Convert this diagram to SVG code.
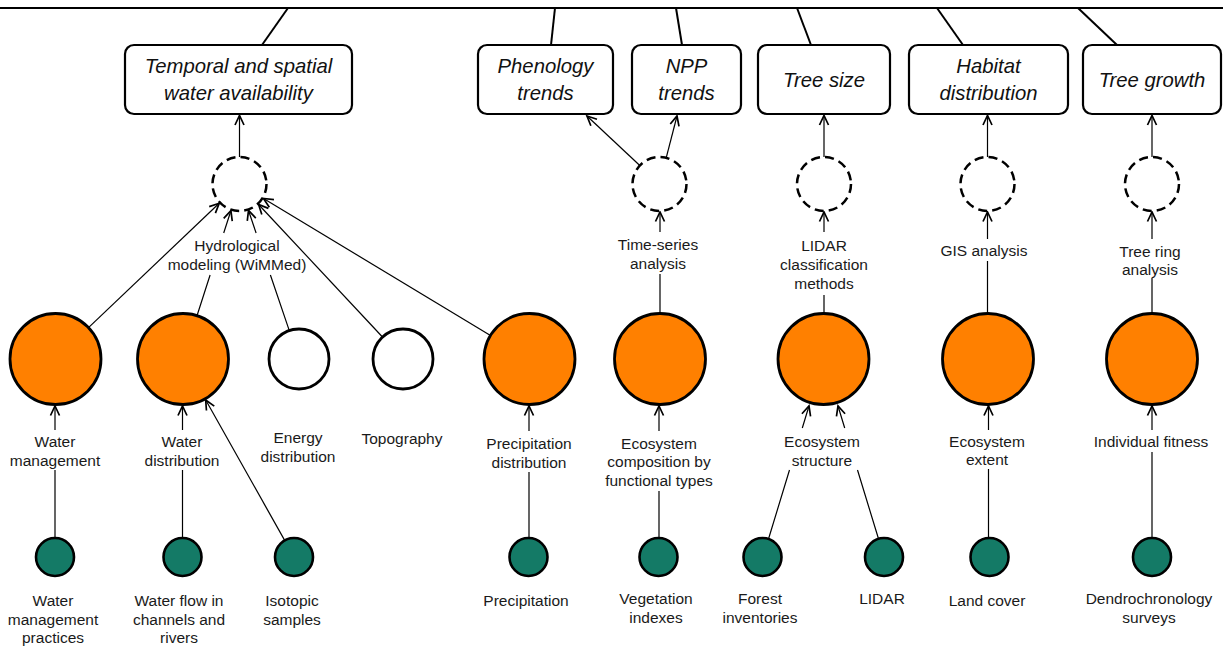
<svg xmlns="http://www.w3.org/2000/svg" width="1223" height="646" viewBox="0 0 1223 646">
  <defs>
    <marker id="arrow" markerUnits="userSpaceOnUse" markerWidth="13" markerHeight="13" viewBox="0 0 13 13" refX="11" refY="6.5" orient="auto" overflow="visible">
      <path d="M1.5,2 L11,6.5 L1.5,11" fill="none" stroke="#000" stroke-width="1.7" stroke-linejoin="miter"/>
    </marker>
    <style>
      .topline { stroke: #000; stroke-width: 2.2; fill: none; }
      .branch { stroke: #000; stroke-width: 2; fill: none; }
      .box { fill: #fff; stroke: #000; stroke-width: 2.2; }
      .boxtext { font-family: "Liberation Sans", Arial, Helvetica, sans-serif; font-size: 20.3px; font-style: italic; fill: #111; text-anchor: middle; }
      .hub { fill: #fff; stroke: #000; stroke-width: 2.5; stroke-dasharray: 9 5.2; }
      .big { fill: #ff8000; stroke: #000; stroke-width: 2.8; }
      .empty { fill: #fff; stroke: #000; stroke-width: 2.8; }
      .data { fill: #147a66; stroke: #000; stroke-width: 2.6; }
      .edge { stroke: #000; stroke-width: 1.2; fill: none; }
      .arr { marker-end: url(#arrow); }
      .lbl { font-family: "Liberation Sans", Arial, Helvetica, sans-serif; font-size: 15.5px; fill: #1a1a1a; text-anchor: middle; }
    </style>
  </defs>

  <rect width="1223" height="646" fill="#fff"/>

  <!-- trunk and branches to the indicator boxes -->
  <g id="trunk">
    <line class="topline" x1="0" y1="8" x2="1223" y2="8"/>
    <line class="branch" x1="288" y1="8" x2="262" y2="45"/>
    <line class="branch" x1="555" y1="8" x2="551" y2="45"/>
    <line class="branch" x1="676" y1="8" x2="682" y2="45"/>
    <line class="branch" x1="797" y1="8" x2="811" y2="45"/>
    <line class="branch" x1="937" y1="8" x2="963" y2="45"/>
    <line class="branch" x1="1078" y1="8" x2="1117" y2="45"/>
  </g>

  <!-- connectors -->
  <g id="connectors">
    <!-- hubs to indicator boxes -->
    <path class="edge arr" d="M239.5,157 L239.5,115.5"/>
    <path class="edge arr" d="M639.8,165.5 L587,116"/>
    <path class="edge arr" d="M666.2,157.8 L677,116"/>
    <path class="edge arr" d="M824,157 L824,115.5"/>
    <path class="edge arr" d="M987.5,157 L987.5,115.5"/>
    <path class="edge arr" d="M1152,157 L1152,115.5"/>

    <!-- hydrological modelling inputs -->
    <path class="edge arr" d="M88.5,327.6 L219.2,203.3"/>
    <path class="edge arr" d="M197,315.7 L210.1,275 M223.7,233 L230.9,210.7"/>
    <path class="edge arr" d="M289.3,330.6 L270.4,275 M256.1,233 L248.5,210.5"/>
    <path class="edge arr" d="M382.5,337 L258.6,204.5"/>
    <path class="edge arr" d="M490.5,335.5 L263.5,198.5"/>

    <!-- analyses to hubs -->
    <path class="edge arr" d="M660,313.5 L660,274 M660,232 L660,212"/>
    <path class="edge arr" d="M824,313.5 L824,295 M824,232 L824,212"/>
    <path class="edge arr" d="M987.5,313.5 L987.5,261 M987.5,239 L987.5,212"/>
    <path class="edge arr" d="M1152,313.5 L1152,278 M1152,239 L1152,212"/>

    <!-- data sources to variables -->
    <path class="edge arr" d="M55,538 L55,470 M55,430 L55,406"/>
    <path class="edge arr" d="M182.5,538 L182.5,470 M182.5,430 L182.5,406"/>
    <path class="edge arr" d="M284.7,540.4 L205.7,400"/>
    <path class="edge arr" d="M529,538 L529,472 M529,431 L529,406"/>
    <path class="edge arr" d="M659,538 L659,491 M659,431 L659,406"/>
    <path class="edge arr" d="M768.5,539 L789.5,470 M802.3,428 L809,406"/>
    <path class="edge arr" d="M878.5,538.8 L857.5,470 M844.7,428 L838,406"/>
    <path class="edge arr" d="M988.5,538 L988.5,469 M988.5,430 L988.5,406"/>
    <path class="edge arr" d="M1152,538 L1152,452 M1152,430 L1152,406"/>
  </g>

  <!-- connector labels -->
  <g id="edge-labels" class="lbl">
    <text x="237" y="251">Hydrological</text>
    <text x="237" y="270">modeling (WiMMed)</text>
    <text x="658" y="250">Time-series</text>
    <text x="658" y="269">analysis</text>
    <text x="824" y="251">LIDAR</text>
    <text x="824" y="270">classification</text>
    <text x="824" y="289">methods</text>
    <text x="984" y="256">GIS analysis</text>
    <text x="1150" y="256.5">Tree ring</text>
    <text x="1150" y="274.5">analysis</text>
    <text x="55" y="446.5">Water</text>
    <text x="55" y="465.5">management</text>
    <text x="182" y="446.5">Water</text>
    <text x="182" y="465.5">distribution</text>
    <text x="529" y="448.5">Precipitation</text>
    <text x="529" y="467.5">distribution</text>
    <text x="659" y="448.5">Ecosystem</text>
    <text x="659" y="467">composition by</text>
    <text x="659" y="486">functional types</text>
    <text x="822" y="446.5">Ecosystem</text>
    <text x="822" y="465.5">structure</text>
    <text x="987" y="446.5">Ecosystem</text>
    <text x="987" y="465">extent</text>
    <text x="1151" y="446.5">Individual fitness</text>
  </g>

  <!-- indicator boxes -->
  <g id="box-water-availability">
    <rect class="box" x="125" y="45" width="227" height="69" rx="9"/>
    <text class="boxtext" x="238.5" y="73">Temporal and spatial</text>
    <text class="boxtext" x="238.5" y="99.5">water availability</text>
  </g>
  <g id="box-phenology">
    <rect class="box" x="478" y="45" width="135" height="69" rx="9"/>
    <text class="boxtext" x="545.5" y="73">Phenology</text>
    <text class="boxtext" x="545.5" y="99.5">trends</text>
  </g>
  <g id="box-npp">
    <rect class="box" x="632" y="45" width="109" height="69" rx="9"/>
    <text class="boxtext" x="686.5" y="73">NPP</text>
    <text class="boxtext" x="686.5" y="99.5">trends</text>
  </g>
  <g id="box-tree-size">
    <rect class="box" x="758" y="45" width="132" height="69" rx="9"/>
    <text class="boxtext" x="824" y="86.5">Tree size</text>
  </g>
  <g id="box-habitat">
    <rect class="box" x="909" y="45" width="159" height="69" rx="9"/>
    <text class="boxtext" x="988.5" y="73">Habitat</text>
    <text class="boxtext" x="988.5" y="99.5">distribution</text>
  </g>
  <g id="box-tree-growth">
    <rect class="box" x="1083" y="45" width="138" height="69" rx="9"/>
    <text class="boxtext" x="1152" y="86.5">Tree growth</text>
  </g>

  <!-- integration hubs -->
  <g id="hub-water"><circle class="hub" cx="239.5" cy="184" r="27"/></g>
  <g id="hub-vegetation"><circle class="hub" cx="659.5" cy="184" r="27"/></g>
  <g id="hub-tree-size"><circle class="hub" cx="824" cy="184" r="27"/></g>
  <g id="hub-habitat"><circle class="hub" cx="987.5" cy="184" r="27"/></g>
  <g id="hub-tree-growth"><circle class="hub" cx="1152" cy="184" r="27"/></g>

  <!-- essential variables -->
  <g id="var-water-management"><circle class="big" cx="55.5" cy="359" r="45.5"/></g>
  <g id="var-water-distribution"><circle class="big" cx="183" cy="359" r="45.5"/></g>
  <g id="var-energy-distribution">
    <circle class="empty" cx="299" cy="359" r="30"/>
    <text class="lbl" x="298" y="443">Energy</text>
    <text class="lbl" x="298" y="462">distribution</text>
  </g>
  <g id="var-topography">
    <circle class="empty" cx="403" cy="359" r="30"/>
    <text class="lbl" x="402" y="443.5">Topography</text>
  </g>
  <g id="var-precipitation-distribution"><circle class="big" cx="529.5" cy="359" r="45.5"/></g>
  <g id="var-ecosystem-composition"><circle class="big" cx="660" cy="359" r="45.5"/></g>
  <g id="var-ecosystem-structure"><circle class="big" cx="823.5" cy="359" r="45.5"/></g>
  <g id="var-ecosystem-extent"><circle class="big" cx="988" cy="359" r="45.5"/></g>
  <g id="var-individual-fitness"><circle class="big" cx="1152" cy="359" r="45.5"/></g>

  <!-- data sources -->
  <g id="src-water-management-practices">
    <circle class="data" cx="55" cy="557" r="19"/>
    <text class="lbl" x="53" y="606">Water</text>
    <text class="lbl" x="53" y="624.5">management</text>
    <text class="lbl" x="53" y="643">practices</text>
  </g>
  <g id="src-water-flow">
    <circle class="data" cx="182.5" cy="557" r="19"/>
    <text class="lbl" x="179" y="606">Water flow in</text>
    <text class="lbl" x="179" y="624.5">channels and</text>
    <text class="lbl" x="179" y="643">rivers</text>
  </g>
  <g id="src-isotopic-samples">
    <circle class="data" cx="294" cy="557" r="19"/>
    <text class="lbl" x="292" y="606">Isotopic</text>
    <text class="lbl" x="292" y="624.5">samples</text>
  </g>
  <g id="src-precipitation">
    <circle class="data" cx="528.5" cy="557" r="19"/>
    <text class="lbl" x="526" y="606">Precipitation</text>
  </g>
  <g id="src-vegetation-indexes">
    <circle class="data" cx="658.5" cy="557" r="19"/>
    <text class="lbl" x="656" y="604">Vegetation</text>
    <text class="lbl" x="656" y="622.5">indexes</text>
  </g>
  <g id="src-forest-inventories">
    <circle class="data" cx="762.5" cy="557" r="19"/>
    <text class="lbl" x="760" y="604">Forest</text>
    <text class="lbl" x="760" y="622.5">inventories</text>
  </g>
  <g id="src-lidar">
    <circle class="data" cx="884" cy="557" r="19"/>
    <text class="lbl" x="882" y="604">LIDAR</text>
  </g>
  <g id="src-land-cover">
    <circle class="data" cx="989.5" cy="557" r="19"/>
    <text class="lbl" x="987" y="606">Land cover</text>
  </g>
  <g id="src-dendrochronology">
    <circle class="data" cx="1152" cy="557" r="19"/>
    <text class="lbl" x="1149" y="604">Dendrochronology</text>
    <text class="lbl" x="1149" y="622.5">surveys</text>
  </g>
</svg>
